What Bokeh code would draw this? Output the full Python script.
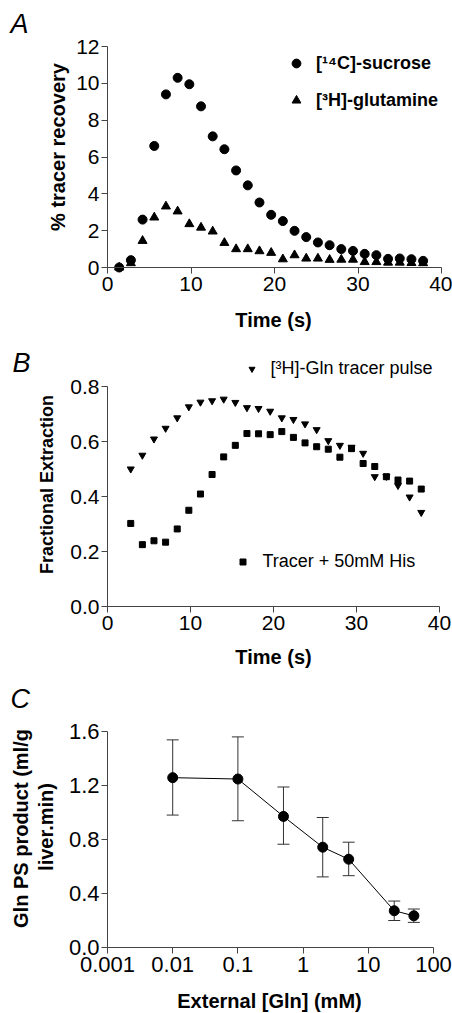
import math
from bokeh.plotting import figure
from bokeh.models import (Range1d, FixedTicker, PrintfTickFormatter, Legend, LegendItem,
                          Label, Whisker, TeeHead, ColumnDataSource)
from bokeh.layouts import column
from bokeh.embed import file_html
from bokeh.resources import INLINE

# ---------------- data ----------------
# Panel A: % tracer recovery vs time
time_a = [1.4, 2.8, 4.2, 5.6, 7.0, 8.4, 9.8, 11.2, 12.6, 14.0, 15.4, 16.8, 18.2, 19.6,
          21.0, 22.4, 23.8, 25.2, 26.6, 28.0, 29.4, 30.8, 32.2, 33.6, 35.0, 36.4, 37.8]
sucrose = [0.0, 0.4, 2.6, 6.6, 9.4, 10.3, 9.95, 8.75, 7.12, 6.42, 5.27, 4.46, 3.53, 2.86,
           2.52, 1.99, 1.65, 1.36, 1.21, 1.0, 0.9, 0.74, 0.67, 0.47, 0.49, 0.45, 0.36]
glutamine = [0.0, 0.24, 1.45, 2.72, 3.32, 3.05, 2.36, 2.17, 1.96, 1.34, 1.0, 1.0, 0.89, 0.8,
             0.45, 0.67, 0.49, 0.49, 0.42, 0.43, 0.43, 0.3, 0.3, 0.27, 0.27, 0.25, 0.24]

# Panel B: fractional extraction vs time
time_b = [2.8, 4.2, 5.6, 7.0, 8.4, 9.8, 11.2, 12.6, 14.0, 15.4, 16.8, 18.2, 19.6,
          21.0, 22.4, 23.8, 25.2, 26.6, 28.0, 29.4, 30.8, 32.2, 33.6, 35.0, 36.4, 37.8]
gln_pulse = [0.50, 0.55, 0.609, 0.648, 0.686, 0.726, 0.743, 0.748, 0.754, 0.742, 0.723, 0.72,
             0.71, 0.686, 0.68, 0.664, 0.643, 0.603, 0.586, 0.579, 0.557, 0.472, 0.473, 0.44,
             0.398, 0.342]
tracer_his = [0.302, 0.225, 0.239, 0.234, 0.282, 0.35, 0.409, 0.48, 0.544, 0.586, 0.629, 0.628,
              0.625, 0.636, 0.615, 0.595, 0.581, 0.572, 0.543, 0.574, 0.52, 0.509, 0.472, 0.46,
              0.456, 0.427]

# Panel C: Gln PS product vs external [Gln]
gln_conc = [0.01, 0.1, 0.5, 2, 5, 25, 50]
ps_product = [1.258, 1.248, 0.971, 0.743, 0.654, 0.272, 0.235]
ps_upper = [1.538, 1.56, 1.189, 0.963, 0.78, 0.344, 0.285]
ps_lower = [0.981, 0.939, 0.765, 0.523, 0.532, 0.20, 0.186]

# ticks
ticks_a_x = [0, 10, 20, 30, 40]
ticks_a_y = [0, 2, 4, 6, 8, 10, 12]
ticks_b_x = [0, 10, 20, 30, 40]
ticks_b_y = [0.0, 0.2, 0.4, 0.6, 0.8]
ticks_c_x = [0.001, 0.01, 0.1, 1, 10, 100]
tick_labels_c_x = ["0.001", "0.01", "0.1", "1", "10", "100"]
ticks_c_y = [0.0, 0.4, 0.8, 1.2, 1.6]

# ---------------- layout (pixels) ----------------
W = 452
FONT = "Liberation Sans"
AX = "#444444"


def lin_range(p_lo, v_lo, p_hi, v_hi, total):
    """Range whose value v_lo sits at pixel p_lo and v_hi at p_hi (pixels from the low end)."""
    s = (v_hi - v_lo) / (p_hi - p_lo)
    return (v_lo - p_lo * s, v_hi + (total - p_hi) * s)


def make_fig(h, xr, yr, x_axis_type="linear"):
    p = figure(width=W, height=h, x_range=Range1d(*xr), y_range=Range1d(*yr),
               x_axis_type=x_axis_type, min_border=0, output_backend="svg",
               toolbar_location=None)
    p.xgrid.visible = False
    p.ygrid.visible = False
    p.outline_line_color = None
    p.background_fill_color = "white"
    p.border_fill_color = "white"
    return p


def style_axes(p, tick_size, xloc, yloc, xbounds, ybounds, xticks, yticks):
    p.xaxis[0].fixed_location = xloc
    p.yaxis[0].fixed_location = yloc
    p.xaxis[0].bounds = xbounds
    p.yaxis[0].bounds = ybounds
    p.xaxis[0].ticker = FixedTicker(ticks=xticks)
    p.yaxis[0].ticker = FixedTicker(ticks=yticks)
    for ax in (p.xaxis[0], p.yaxis[0]):
        ax.axis_line_color = AX
        ax.axis_line_width = 1
        ax.major_tick_line_color = AX
        ax.minor_tick_line_color = None
        ax.major_tick_out = 6
        ax.major_tick_in = 0
        ax.major_label_text_font = FONT
        ax.major_label_text_font_size = tick_size
        ax.major_label_text_color = "black"
    p.xaxis[0].major_label_standoff = 3
    p.yaxis[0].major_label_standoff = 2


def add_text(p, h, text, x, y_top, size, style="bold", angle=0.0, align="center"):
    # x from canvas left, y_top (text middle) from canvas top
    p.add_layout(Label(x=x, y=h - y_top, x_units="screen", y_units="screen", text=text,
                       angle=angle, text_font=FONT, text_font_size=size,
                       text_font_style=style, text_align=align, text_baseline="middle",
                       text_color="black"))


def legend(items, left, bottom_top, h, glyph, standoff, size, style="normal", spacing=0):
    return Legend(items=items, location=(left, h - bottom_top), padding=0, margin=0,
                  spacing=spacing, glyph_width=glyph, glyph_height=glyph,
                  label_standoff=standoff, label_height=20,
                  label_text_font=FONT, label_text_font_size=size,
                  label_text_font_style=style, label_text_color="black",
                  border_line_alpha=0, background_fill_alpha=0)


# ---------------- Panel A ----------------
HA = 338
pa = make_fig(HA, lin_range(107, 0, 441, 40, W), lin_range(HA - 267, 0, HA - 46, 12, HA))
style_axes(pa, "21px", 0, 0, (0, 40), (0, 12), ticks_a_x, ticks_a_y)
r_suc = pa.scatter(time_a, sucrose, marker="circle", size=9, color="black")
r_glu = pa.scatter(time_a, glutamine, marker="triangle", size=9, color="black")
pa.add_layout(legend([LegendItem(label="[¹⁴C]-sucrose", renderers=[r_suc]),
                      LegendItem(label="[³H]-glutamine", renderers=[r_glu])],
                     285, 111, HA, 22, 9, "18px", "bold", spacing=15))
add_text(pa, HA, "A", 10, 23, "27px", style="italic", align="left")
add_text(pa, HA, "% tracer recovery", 57.5, 146.5, "20px", angle=math.pi / 2)
add_text(pa, HA, "Time (s)", 273, 319, "20px")

# ---------------- Panel B ----------------
HB = 330
pb = make_fig(HB, lin_range(107, 0, 439, 40, W), lin_range(HB - 268, 0, HB - 48, 0.8, HB))
style_axes(pb, "21px", 0, 0, (0, 40), (0, 0.8), ticks_b_x, ticks_b_y)
pb.yaxis[0].formatter = PrintfTickFormatter(format="%.1f")
r_pulse = pb.scatter(time_b, gln_pulse, marker="inverted_triangle", size=7, color="black")
r_his = pb.scatter(time_b, tracer_his, marker="square", size=6, color="black")
pb.add_layout(legend([LegendItem(label="[³H]-Gln tracer pulse", renderers=[r_pulse])],
                     243.5, 40.5, HB, 15, 12, "18px"))
pb.add_layout(legend([LegendItem(label="Tracer + 50mM His", renderers=[r_his])],
                     234.5, 233.5, HB, 15, 13, "18px"))
add_text(pb, HB, "B", 12, 24, "27px", style="italic", align="left")
add_text(pb, HB, "Fractional Extraction", 46, 146, "18px", angle=math.pi / 2)
add_text(pb, HB, "Time (s)", 273, 318, "20px")

# ---------------- Panel C ----------------
HC = 345
lx = lin_range(107, -3, 433, 2, W)
pc = make_fig(HC, (10 ** lx[0], 10 ** lx[1]), lin_range(HC - 279, 0, HC - 63, 1.6, HC),
              x_axis_type="log")
style_axes(pc, "22px", 0, 0.001, (0.001, 100), (0, 1.6), ticks_c_x, ticks_c_y)
pc.xaxis[0].major_label_overrides = dict(zip(ticks_c_x, tick_labels_c_x))
pc.yaxis[0].formatter = PrintfTickFormatter(format="%.1f")
src_c = ColumnDataSource(dict(x=gln_conc, y=ps_product, upper=ps_upper, lower=ps_lower))
pc.add_layout(Whisker(base="x", upper="upper", lower="lower", source=src_c,
                      line_color="#333333", line_width=1,
                      upper_head=TeeHead(size=12, line_color="#333333", line_width=1),
                      lower_head=TeeHead(size=12, line_color="#333333", line_width=1)))
pc.line("x", "y", source=src_c, line_color="black", line_width=1)
pc.scatter("x", "y", source=src_c, marker="circle", size=10, color="black")
add_text(pc, HC, "C", 10, 30, "27px", style="italic", align="left")
add_text(pc, HC, "Gln PS product (ml/g", 20, 160, "20px", angle=math.pi / 2)
add_text(pc, HC, "liver.min)", 45, 158.5, "20px", angle=math.pi / 2)
add_text(pc, HC, "External [Gln] (mM)", 269, 332, "20px")

layout = column(pa, pb, pc, spacing=0)
open("out.html", "w").write(file_html(layout, INLINE))
